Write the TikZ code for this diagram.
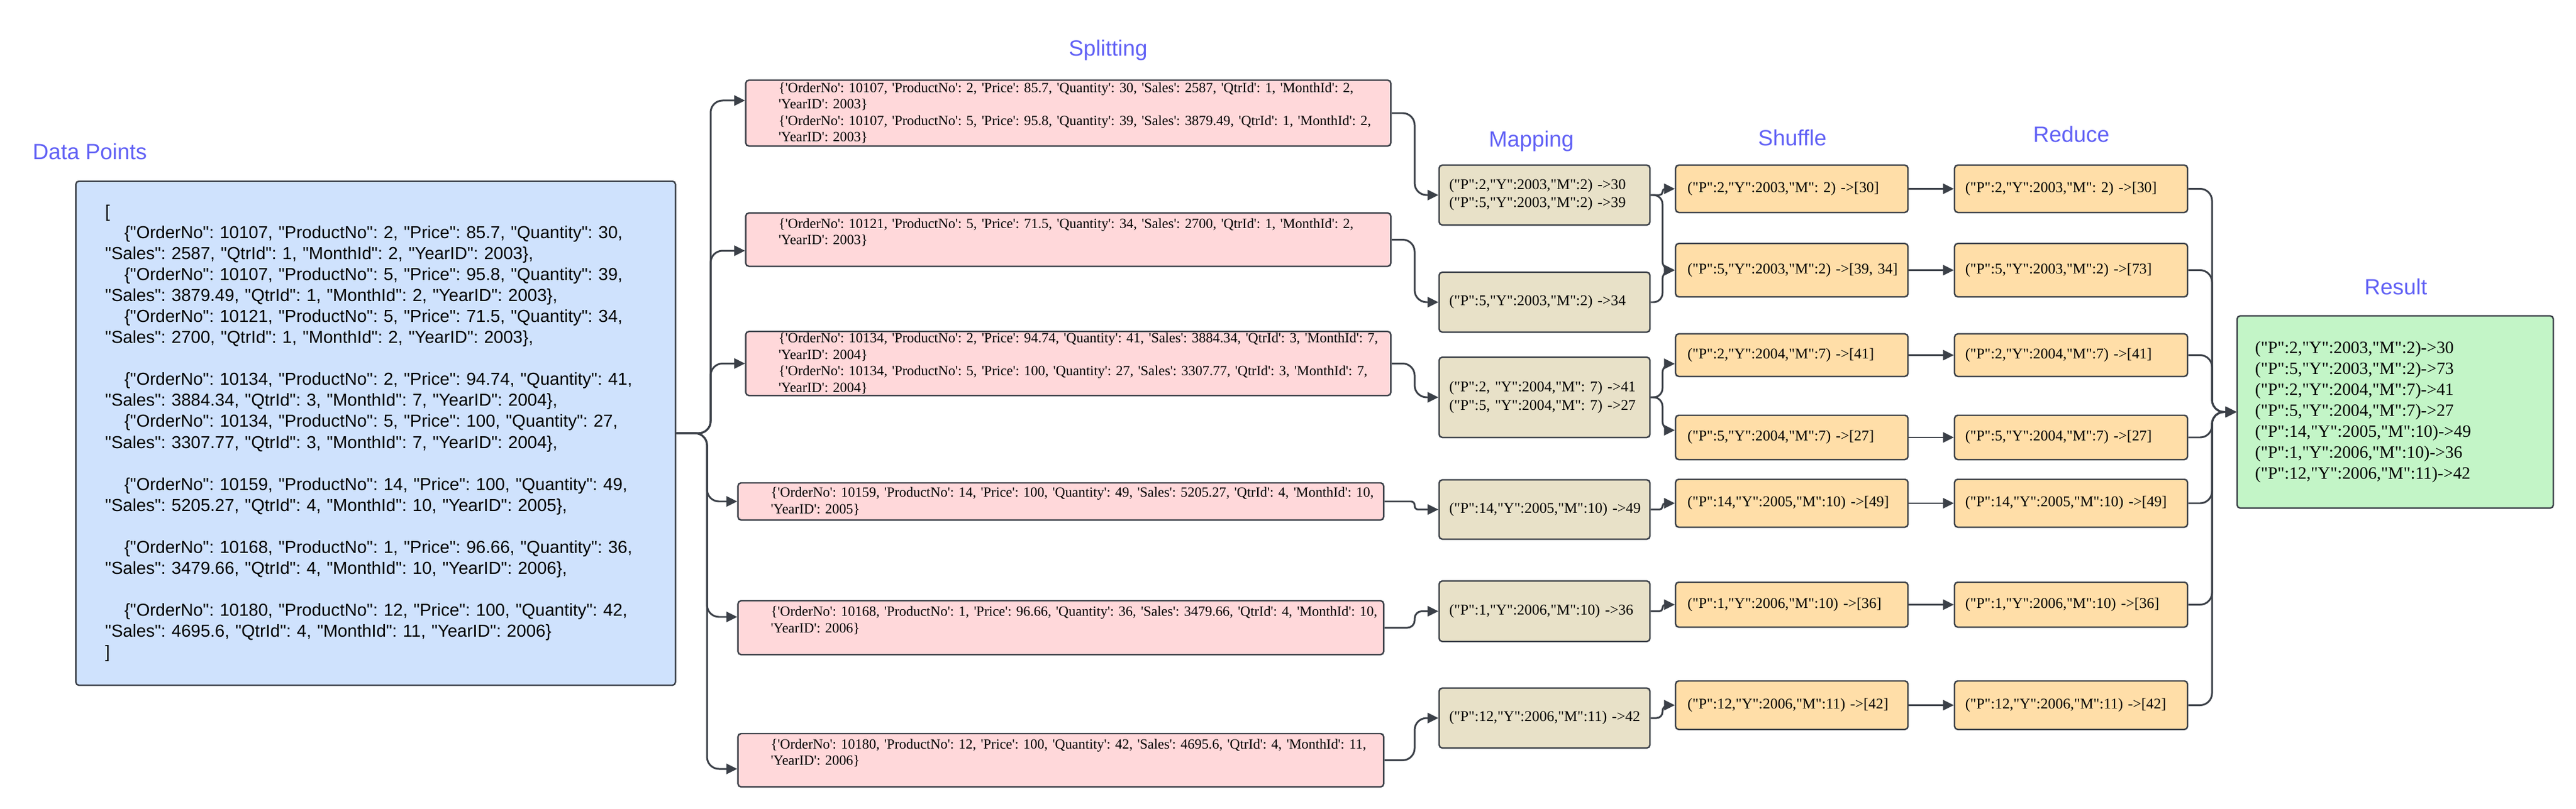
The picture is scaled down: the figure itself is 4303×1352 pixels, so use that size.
\documentclass[tikz,border=0pt]{standalone}
\usepackage{fontspec}
\usepackage{tikz}
\usetikzlibrary{arrows.meta}
\usetikzlibrary{calc}
\newfontfamily\sansfont{Liberation Sans}
\newfontfamily\seriffont{Liberation Serif}
\frenchspacing
\definecolor{edge}{RGB}{59,64,72}
\definecolor{stageblue}{RGB}{96,96,245}
\definecolor{datafill}{RGB}{207,226,253}
\definecolor{splitfill}{RGB}{255,216,218}
\definecolor{mapfill}{RGB}{232,225,200}
\definecolor{shuffill}{RGB}{255,222,168}
\definecolor{resfill}{RGB}{195,245,199}
\newcommand{\indt}{\hspace*{0.32cm}}
\tikzset{
    stage/.style={font=\sansfont\fontsize{10.5}{12.6}\selectfont, text=stageblue, anchor=base, inner sep=0pt},
    box/.style={draw=edge, line width=0.7pt, rounded corners=1.5pt, inner sep=0pt, align=left},
    pad/.style={execute at begin node={\leftskip=#1\frenchspacing}},
    databox/.style={box, fill=datafill, text width=10.01cm, pad=0.49cm,
        font=\sansfont\fontsize{8.25}{9.96}\selectfont},
    splitbox/.style={box, fill=splitfill, text width=10.77cm, pad=0.55cm,
        font=\seriffont\fontsize{6.66}{7.82}\selectfont},
    mapbox/.style={box, fill=mapfill, text width=3.52cm, pad=0.17cm,
        font=\seriffont\fontsize{7.08}{8.54}\selectfont},
    shufbox/.style={box, fill=shuffill, text width=3.88cm, pad=0.20cm,
        font=\seriffont\fontsize{7.08}{8.54}\selectfont},
    redbox/.style={shufbox, text width=3.89cm, pad=0.18cm},
    resbox/.style={box, fill=resfill, text width=5.28cm, pad=0.30cm, minimum height=3.21cm,
        font=\seriffont\fontsize{8.2}{9.96}\selectfont},
    link/.style={draw=edge, line width=0.85pt, rounded corners=#1,
        -{Triangle[length=0.18cm,width=0.17cm]}},
    link/.default=0.2cm
}
\begin{document}
\begin{tikzpicture}[x=0.01cm,y=-0.01cm]
	\useasboundingbox (0,0) rectangle (4303,1352);
	% stage titles
	\node[stage] (tdata) at (150,267) {Data Points};
	\node[stage] (tsplit) at (1851,94) {Splitting};
	\node[stage] (tmap) at (2558,246) {Mapping};
	\node[stage] (tshuf) at (2994,244) {Shuffle};
	\node[stage] (tred) at (3460,238) {Reduce};
	\node[stage] (tres) at (4002,492) {Result};
	% input records
	\node[databox, minimum height=8.42cm] (data) at (627.5,724) {[\\
\indt\{"OrderNo": 10107, "ProductNo": 2, "Price": 85.7, "Quantity": 30,\\
"Sales": 2587, "QtrId": 1, "MonthId": 2, "YearID": 2003\},\\
\indt\{"OrderNo": 10107, "ProductNo": 5, "Price": 95.8, "Quantity": 39,\\
"Sales": 3879.49, "QtrId": 1, "MonthId": 2, "YearID": 2003\},\\
\indt\{"OrderNo": 10121, "ProductNo": 5, "Price": 71.5, "Quantity": 34,\\
"Sales": 2700, "QtrId": 1, "MonthId": 2, "YearID": 2003\},\\[9.96pt]
\indt\{"OrderNo": 10134, "ProductNo": 2, "Price": 94.74, "Quantity": 41,\\
"Sales": 3884.34, "QtrId": 3, "MonthId": 7, "YearID": 2004\},\\
\indt\{"OrderNo": 10134, "ProductNo": 5, "Price": 100, "Quantity": 27,\\
"Sales": 3307.77, "QtrId": 3, "MonthId": 7, "YearID": 2004\},\\[9.96pt]
\indt\{"OrderNo": 10159, "ProductNo": 14, "Price": 100, "Quantity": 49,\\
"Sales": 5205.27, "QtrId": 4, "MonthId": 10, "YearID": 2005\},\\[9.96pt]
\indt\{"OrderNo": 10168, "ProductNo": 1, "Price": 96.66, "Quantity": 36,\\
"Sales": 3479.66, "QtrId": 4, "MonthId": 10, "YearID": 2006\},\\[9.96pt]
\indt\{"OrderNo": 10180, "ProductNo": 12, "Price": 100, "Quantity": 42,\\
"Sales": 4695.6, "QtrId": 4, "MonthId": 11, "YearID": 2006\}\\
]};
	% splitting
	\node[splitbox, minimum height=1.10cm] (sp1) at (1784.5,189) {\{'OrderNo': 10107, 'ProductNo': 2, 'Price': 85.7, 'Quantity': 30, 'Sales': 2587, 'QtrId': 1, 'MonthId': 2,\\
'YearID': 2003\}\\
\{'OrderNo': 10107, 'ProductNo': 5, 'Price': 95.8, 'Quantity': 39, 'Sales': 3879.49, 'QtrId': 1, 'MonthId': 2,\\
'YearID': 2003\}};
	\node[splitbox, minimum height=0.89cm] (sp2) at (1784.5,400.5) {\{'OrderNo': 10121, 'ProductNo': 5, 'Price': 71.5, 'Quantity': 34, 'Sales': 2700, 'QtrId': 1, 'MonthId': 2,\\
'YearID': 2003\}\\ \mbox{}};
	\node[splitbox, minimum height=1.07cm] (sp3) at (1784.5,607.5) {\{'OrderNo': 10134, 'ProductNo': 2, 'Price': 94.74, 'Quantity': 41, 'Sales': 3884.34, 'QtrId': 3, 'MonthId': 7,\\
'YearID': 2004\}\\
\{'OrderNo': 10134, 'ProductNo': 5, 'Price': 100, 'Quantity': 27, 'Sales': 3307.77, 'QtrId': 3, 'MonthId': 7,\\
'YearID': 2004\}};
	\node[splitbox, text width=10.78cm, minimum height=0.62cm] (sp4) at (1772,838) {\{'OrderNo': 10159, 'ProductNo': 14, 'Price': 100, 'Quantity': 49, 'Sales': 5205.27, 'QtrId': 4, 'MonthId': 10,\\
'YearID': 2005\}};
	\node[splitbox, text width=10.78cm, minimum height=0.90cm] (sp5) at (1772,1049) {\{'OrderNo': 10168, 'ProductNo': 1, 'Price': 96.66, 'Quantity': 36, 'Sales': 3479.66, 'QtrId': 4, 'MonthId': 10,\\
'YearID': 2006\}\\ \mbox{}};
	\node[splitbox, text width=10.78cm, minimum height=0.89cm] (sp6) at (1772,1270.5) {\{'OrderNo': 10180, 'ProductNo': 12, 'Price': 100, 'Quantity': 42, 'Sales': 4695.6, 'QtrId': 4, 'MonthId': 11,\\
'YearID': 2006\}\\ \mbox{}};
	% mapping
	\node[mapbox, minimum height=1.00cm] (mp1) at (2580,326) {("P":2,"Y":2003,"M":2) ->30\\("P":5,"Y":2003,"M":2) ->39};
	\node[mapbox, minimum height=1.00cm] (mp2) at (2580,505) {("P":5,"Y":2003,"M":2) ->34};
	\node[mapbox, minimum height=1.34cm] (mp3) at (2580,664) {("P":2, "Y":2004,"M": 7) ->41\\("P":5, "Y":2004,"M": 7) ->27};
	\node[mapbox, minimum height=0.99cm] (mp4) at (2580,851.5) {("P":14,"Y":2005,"M":10) ->49};
	\node[mapbox, minimum height=1.01cm] (mp5) at (2580,1021.5) {("P":1,"Y":2006,"M":10) ->36};
	\node[mapbox, minimum height=1.00cm] (mp6) at (2580,1200) {("P":12,"Y":2006,"M":11) ->42};
	% shuffle
	\node[shufbox, minimum height=0.79cm] (sh1) at (2993,315.5) {("P":2,"Y":2003,"M": 2) ->[30]};
	\node[shufbox, minimum height=0.89cm] (sh2) at (2993,451.5) {("P":5,"Y":2003,"M":2) ->[39, 34]};
	\node[shufbox, minimum height=0.71cm] (sh3) at (2993,593.5) {("P":2,"Y":2004,"M":7) ->[41]};
	\node[shufbox, minimum height=0.74cm] (sh4) at (2993,731) {("P":5,"Y":2004,"M":7) ->[27]};
	\node[shufbox, minimum height=0.80cm] (sh5) at (2993,841) {("P":14,"Y":2005,"M":10) ->[49]};
	\node[shufbox, minimum height=0.75cm] (sh6) at (2993,1010.5) {("P":1,"Y":2006,"M":10) ->[36]};
	\node[shufbox, minimum height=0.81cm] (sh7) at (2993,1178.5) {("P":12,"Y":2006,"M":11) ->[42]};
	% reduce
	\node[redbox, minimum height=0.79cm] (rd1) at (3459.5,315.5) {("P":2,"Y":2003,"M": 2) ->[30]};
	\node[redbox, minimum height=0.89cm] (rd2) at (3459.5,451.5) {("P":5,"Y":2003,"M":2) ->[73]};
	\node[redbox, minimum height=0.71cm] (rd3) at (3459.5,593.5) {("P":2,"Y":2004,"M":7) ->[41]};
	\node[redbox, minimum height=0.74cm] (rd4) at (3459.5,731) {("P":5,"Y":2004,"M":7) ->[27]};
	\node[redbox, minimum height=0.80cm] (rd5) at (3459.5,841) {("P":14,"Y":2005,"M":10) ->[49]};
	\node[redbox, minimum height=0.75cm] (rd6) at (3459.5,1010.5) {("P":1,"Y":2006,"M":10) ->[36]};
	\node[redbox, minimum height=0.81cm] (rd7) at (3459.5,1178.5) {("P":12,"Y":2006,"M":11) ->[42]};
	% result
	\node[resbox] (res) at (4001,688.5) {("P":2,"Y":2003,"M":2)->30\\
("P":5,"Y":2003,"M":2)->73\\
("P":2,"Y":2004,"M":7)->41\\
("P":5,"Y":2004,"M":7)->27\\
("P":14,"Y":2005,"M":10)->49\\
("P":1,"Y":2006,"M":10)->36\\
("P":12,"Y":2006,"M":11)->42};
	% data -> splitting
	\coordinate (forkup) at (1187,724);
	\coordinate (forkdn) at (1181,724);
	\coordinate (tosp1) at ([yshift=0.21cm]sp1.west);
	\coordinate (tosp2) at ([yshift=-0.185cm]sp2.west);
	\coordinate (tosp5) at ([yshift=0.18cm]sp5.west);
	\coordinate (tosp6) at ([yshift=-0.145cm]sp6.west);
	\draw[link] (data.east) -| (forkup |- tosp1) -- (tosp1);
	\draw[link] (data.east) -| (forkup |- tosp2) -- (tosp2);
	\draw[link] (data.east) -| (forkup |- sp3.west) -- (sp3.west);
	\draw[link] (data.east) -| (forkdn |- sp4.west) -- (sp4.west);
	\draw[link] (data.east) -| (forkdn |- tosp5) -- (tosp5);
	\draw[link] (data.east) -| (forkdn |- tosp6) -- (tosp6);
	% splitting -> mapping
	\coordinate (spmp) at (2363,0);
	\draw[link] (sp1.east) -| (spmp |- mp1.west) -- (mp1.west);
	\draw[link] (sp2.east) -| (spmp |- mp2.west) -- (mp2.west);
	\draw[link] (sp3.east) -| (spmp |- mp3.west) -- (mp3.west);
	\draw[link=0.06cm] (sp4.east) -| (spmp |- mp4.west) -- (mp4.west);
	\draw[link=0.12cm] (sp5.east) -| (spmp |- mp5.west) -- (mp5.west);
	\draw[link] (sp6.east) -| (spmp |- mp6.west) -- (mp6.west);
	% mapping -> shuffle
	\coordinate (mpsh) at (2777,0);
	\coordinate (tosh3) at ([yshift=-0.145cm]sh3.west);
	\coordinate (tosh4) at ([yshift=0.12cm]sh4.west);
	\draw[link=0.05cm] (mp1.east) -| (mpsh |- sh1.west) -- (sh1.west);
	\draw[link=0.15cm] (mp1.east) -| (mpsh |- sh2.west) -- (sh2.west);
	\draw[link=0.15cm] (mp2.east) -| (mpsh |- sh2.west) -- (sh2.west);
	\draw[link=0.15cm] (mp3.east) -| (mpsh |- tosh3) -- (tosh3);
	\draw[link=0.15cm] (mp3.east) -| (mpsh |- tosh4) -- (tosh4);
	\draw[link=0.05cm] (mp4.east) -| (mpsh |- sh5.west) -- (sh5.west);
	\draw[link=0.05cm] (mp5.east) -| (mpsh |- sh6.west) -- (sh6.west);
	\draw[link=0.1cm] (mp6.east) -| (mpsh |- sh7.west) -- (sh7.west);
	% shuffle -> reduce
	\draw[link] (sh1.east) -- (rd1.west);
	\draw[link] (sh2.east) -- (rd2.west);
	\draw[link] (sh3.east) -- (rd3.west);
	\draw[link] (sh4.east) -- (rd4.west);
	\draw[link] (sh5.east) -- (rd5.west);
	\draw[link] (sh6.east) -- (rd6.west);
	\draw[link] (sh7.east) -- (rd7.west);
	% reduce -> result
	\coordinate (rdres) at (3695,0);
	\draw[link] (rd1.east) -| (rdres |- res.west) -- (res.west);
	\draw[link] (rd2.east) -| (rdres |- res.west) -- (res.west);
	\draw[link] (rd3.east) -| (rdres |- res.west) -- (res.west);
	\draw[link] (rd4.east) -| (rdres |- res.west) -- (res.west);
	\draw[link] (rd5.east) -| (rdres |- res.west) -- (res.west);
	\draw[link] (rd6.east) -| (rdres |- res.west) -- (res.west);
	\draw[link] (rd7.east) -| (rdres |- res.west) -- (res.west);
\end{tikzpicture}
\end{document}
